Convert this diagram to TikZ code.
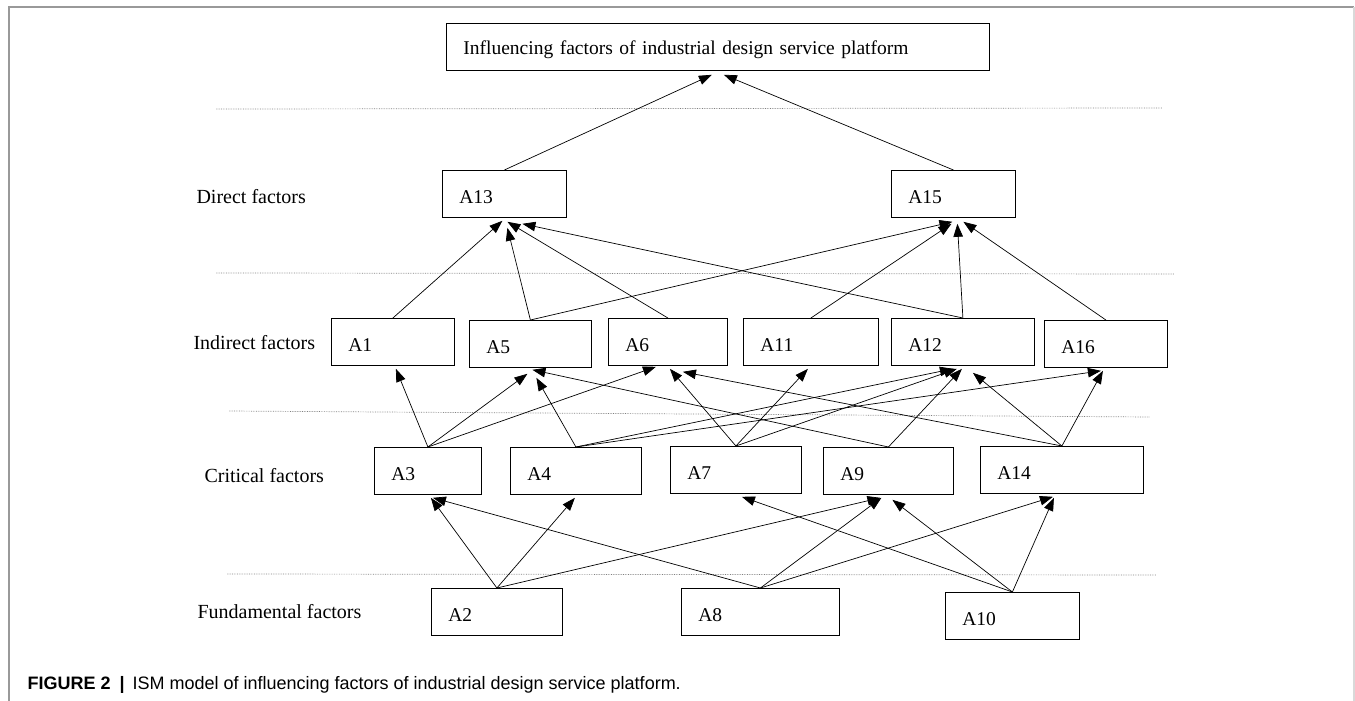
\documentclass[tikz,border=0pt]{standalone}
\usepackage{fontspec}
\setmainfont{Liberation Serif}
\setsansfont{Liberation Sans}
\usetikzlibrary{arrows.meta}

\begin{document}
\begin{tikzpicture}[
x=1pt, y=-1pt,
factornode/.code={\pgfmathsetlengthmacro\factorwd{#1-34pt}%
  \tikzset{rectangle, draw, line width=0.8pt, anchor=north west, minimum width=#1,
    minimum height=47pt, inner xsep=17pt, text width=\factorwd, text height=19pt,
    align=left, font=\fontsize{19.5}{22}\selectfont}},
levellabel/.style={anchor=west, font=\fontsize{20}{24}\selectfont},
levelline/.style={densely dotted, gray, line width=0.7pt},
link/.style={-{Triangle[length=13pt,width=9.5pt]}, line width=0.7pt},
]
\useasboundingbox (0,0) rectangle (1355,701);
%Frame
\draw[gray!80, line width=1.2pt] (9,701) -- (9,7) -- (1354,7);
\draw[gray!30, line width=1.2pt] (1354,7) -- (1354,701);

%Nodes
\node[factornode=543pt] (platform) at (446,23) {Influencing factors of industrial design service platform};

\node[factornode=124pt] (A13) at (442,170) {A13};
\node[factornode=124pt] (A15) at (891,170) {A15};

\node[factornode=123pt] (A1)  at (331,318) {A1};
\node[factornode=122pt] (A5)  at (469,320) {A5};
\node[factornode=119pt] (A6)  at (608,318) {A6};
\node[factornode=135pt] (A11) at (743,318) {A11};
\node[factornode=143pt] (A12) at (891,318) {A12};
\node[factornode=123pt] (A16) at (1044,320) {A16};

\node[factornode=107pt] (A3)  at (374,447) {A3};
\node[factornode=131pt] (A4)  at (510,447) {A4};
\node[factornode=131pt] (A7)  at (670,446) {A7};
\node[factornode=130pt] (A9)  at (823,447) {A9};
\node[factornode=163pt] (A14) at (980,446) {A14};

\node[factornode=131pt] (A2)  at (431,588) {A2};
\node[factornode=158pt] (A8)  at (681,588) {A8};
\node[factornode=134pt] (A10) at (945,592) {A10};

%Levels
\node[levellabel] (direct)      at (193,197) {Direct factors};
\node[levellabel] (indirect)    at (190,343) {Indirect factors};
\node[levellabel] (critical)    at (201,476) {Critical factors};
\node[levellabel] (fundamental) at (194,612) {Fundamental factors};

\draw[levelline] (216,109) -- (1162,108);
\draw[levelline] (216,273) -- (1174,274);
\draw[levelline] (229,411) -- (1150,417);
\draw[levelline] (227,574) -- (1156,575);

%Lines
\draw[link] (A13.north) -- ([xshift=-6pt,yshift=-4pt]platform.south);
\draw[link] (A15.north) -- ([xshift=6pt,yshift=-4pt]platform.south);

\draw[link] (A1.north)  -- ([xshift=-2pt,yshift=-3pt]A13.south);
\draw[link] (A5.north)  -- ([xshift=3pt,yshift=-10pt]A13.south);
\draw[link] (A6.north)  -- ([xshift=3pt,yshift=-4pt]A13.south);
\draw[link] (A12.north) -- ([xshift=18pt,yshift=-6pt]A13.south);

\draw[link] (A5.north)  -- ([xshift=-1pt,yshift=-4pt]A15.south);
\draw[link] (A11.north) -- ([xshift=-2pt,yshift=-6pt]A15.south);
\draw[link] (A12.north) -- ([xshift=4pt,yshift=-6pt]A15.south);
\draw[link] (A16.north) -- ([xshift=10pt,yshift=-4pt]A15.south);

\draw[link] (A3.north)  -- ([xshift=3pt,yshift=-3pt]A1.south);
\draw[link] (A3.north)  -- ([xshift=-3pt,yshift=-6pt]A5.south);
\draw[link] (A4.north)  -- ([xshift=6pt,yshift=-10pt]A5.south);
\draw[link] (A9.north)  -- ([xshift=2pt,yshift=-2pt]A5.south);
\draw[link] (A3.north)  -- ([xshift=-12pt,yshift=-1pt]A6.south);
\draw[link] (A7.north)  -- ([xshift=2pt,yshift=-3pt]A6.south);
\draw[link] (A14.north) -- ([xshift=15pt,yshift=-6pt]A6.south);
\draw[link] (A7.north)  -- ([xshift=-3pt,yshift=-3pt]A11.south);
\draw[link] (A4.north)  -- ([xshift=-10pt,yshift=-3pt]A12.south);
\draw[link] (A7.north)  -- ([xshift=-6pt,yshift=-3pt]A12.south);
\draw[link] (A9.north)  -- ([xshift=-1pt,yshift=-3pt]A12.south);
\draw[link] (A14.north) -- ([xshift=10pt,yshift=-7pt]A12.south);
\draw[link] (A4.north)  -- ([xshift=-5pt,yshift=-3pt]A16.south);
\draw[link] (A14.north) -- ([xshift=-3pt,yshift=-3pt]A16.south);

\draw[link] (A2.north)  -- ([xshift=3pt,yshift=-3pt]A3.south);
\draw[link] (A8.north)  -- ([xshift=5pt,yshift=-3pt]A3.south);
\draw[link] (A2.north)  -- ([xshift=-1pt,yshift=-3pt]A4.south);
\draw[link] (A10.north) -- ([xshift=6pt,yshift=-3pt]A7.south);
\draw[link] (A2.north)  -- ([xshift=-8pt,yshift=-3pt]A9.south);
\draw[link] (A8.north)  -- ([xshift=-7pt,yshift=-3pt]A9.south);
\draw[link] (A10.north) -- ([xshift=4pt,yshift=-5pt]A9.south);
\draw[link] (A8.north)  -- ([xshift=-9pt,yshift=-3pt]A14.south);
\draw[link] (A10.north) -- ([xshift=-8pt,yshift=-4pt]A14.south);

%Caption
\node[anchor=west, font=\sffamily\fontsize{18}{22}\selectfont] (caption) at (24,685)
  {\textbf{FIGURE 2\hspace{9pt}|}\hspace{8pt}ISM model of influencing factors of industrial design service platform.};

\end{tikzpicture}
\end{document}
